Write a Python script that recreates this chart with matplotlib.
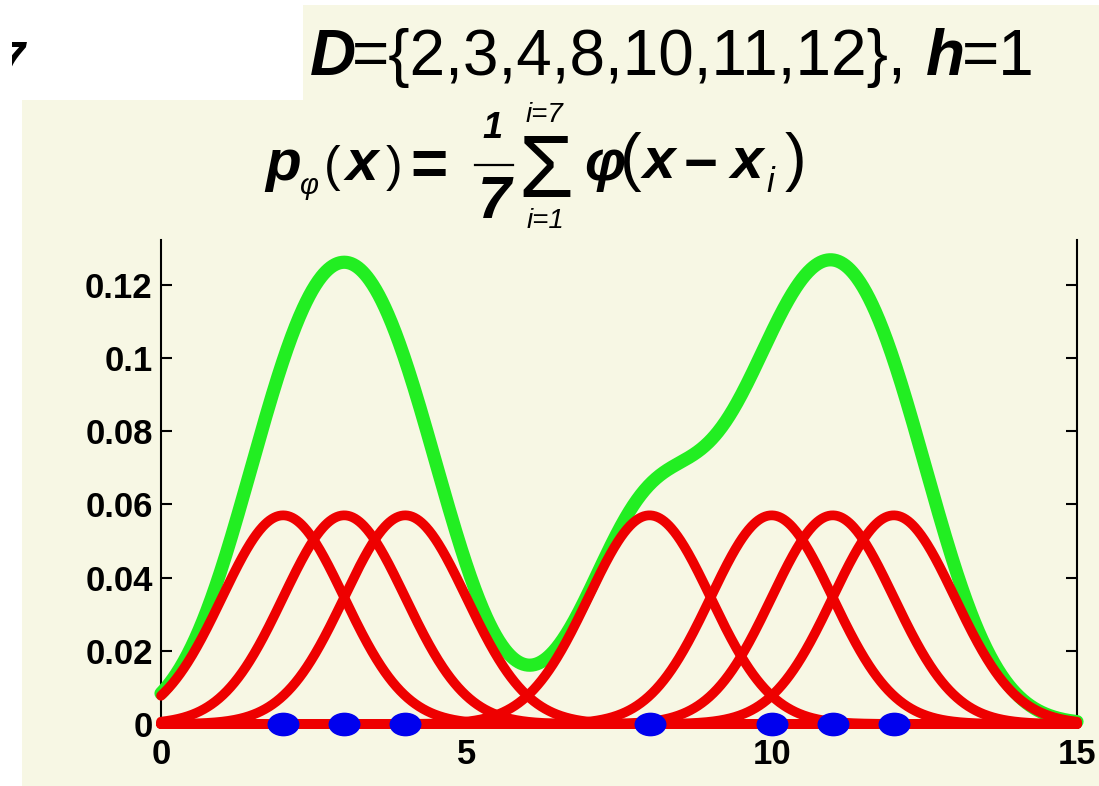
import numpy as np
import matplotlib
matplotlib.use("Agg")
import matplotlib.pyplot as plt
from matplotlib.patches import Rectangle
from matplotlib.lines import Line2D
from matplotlib.path import Path
from matplotlib.transforms import Affine2D, Bbox

# Sample set and kernel width
D = [2, 3, 4, 8, 10, 11, 12]
h = 1.0
x_range = (0, 15)
y_range = (0, 0.1322)
x_ticks = [0, 5, 10, 15]
x_tick_labels = ["0", "5", "10", "15"]
y_ticks = [0, 0.02, 0.04, 0.06, 0.08, 0.10, 0.12]
y_tick_labels = ["0", "0.02", "0.04", "0.06", "0.08", "0.1", "0.12"]

BEIGE = "#f7f7e4"
RED = "#ee0000"
GREEN = "#22ee22"
BLUE = "#0000ee"

W, H = 1099, 786
plt.rcParams["font.family"] = ["Liberation Sans", "DejaVu Sans"]

fig = plt.figure(figsize=(W / 100, H / 100), dpi=100, facecolor="white")


def fx(x):
    return x / W


def fy(y):
    return 1 - y / H


# Background panels (pixel coordinates from the top-left corner)
for (x0, y0, x1, y1) in [(303, 5, W, 100), (22, 100, W, H)]:
    fig.patches.append(Rectangle((fx(x0), fy(y1)), fx(x1) - fx(x0), fy(y0) - fy(y1),
                                 transform=fig.transFigure, facecolor=BEIGE,
                                 edgecolor="none", zorder=-5))


def put(x, y, s, size, weight="normal", style="normal", **kw):
    return fig.text(fx(x), fy(y), s, fontsize=size, fontweight=weight, fontstyle=style,
                    ha=kw.pop("ha", "left"), va="baseline", color="black", **kw)


# Partly hidden digit in the upper-left corner
seven = put(25, 75, "7", 35, "bold", "italic", ha="right")
seven.set_clip_box(Bbox.from_extents(12, 0, 60, H))
seven.set_clip_on(True)

# Heading: data set and bandwidth
put(310, 75, "D", 46, "bold", "italic")
put(352, 75, "={2,3,4,8,10,11,12},", 46)
put(926, 75, "h", 46, "bold", "italic")
put(962, 75, "=1", 46)

# Estimator formula
put(265, 180, "p", 42, "bold", "italic")
put(300, 194, "φ", 21, "normal", "italic")
put(324, 181, "(", 36)
put(346, 180, "x", 42, "bold", "italic")
put(386, 181, ")", 36)
put(410, 185, "=", 46, "bold")
put(482, 138, "1", 26, "bold", "italic")
fig.lines.append(Line2D([fx(475), fx(513)], [fy(165), fy(165)], transform=fig.transFigure,
                        color="black", lw=1.6))
put(478, 218, "7", 43, "bold", "italic")
put(518, 197, "Σ", 64)
put(526, 122, "i=7", 20, "normal", "italic")
put(527, 228, "i=1", 20, "normal", "italic")
put(584, 180, "φ", 42, "bold", "italic")
put(620, 179, "(", 47)
put(643, 178, "x", 42, "bold", "italic")
put(684, 182, "−", 42, "bold")
put(731, 178, "x", 42, "bold", "italic")
put(766, 192, "i", 25, "normal", "italic")
put(785, 179, ")", 47)

# Axes
ax = fig.add_axes([fx(161), fy(724), fx(1077) - fx(161), fy(240) - fy(724)])
ax.set_facecolor("none")
ax.set_xlim(*x_range)
ax.set_ylim(*y_range)

xs = np.linspace(x_range[0], x_range[1], 1200)
n = len(D)


def kernel(u):
    return np.exp(-0.5 * (u / h) ** 2) / (np.sqrt(2 * np.pi) * h)


components = [kernel(xs - xi) / n for xi in D]
total = np.sum(components, axis=0)

ax.plot(xs, total, color=GREEN, lw=9.5, solid_capstyle="round", zorder=3, clip_on=False)
for comp in components:
    ax.plot(xs, comp, color=RED, lw=7, solid_capstyle="round", zorder=4, clip_on=False)

ellipse = Path.unit_circle().transformed(Affine2D().scale(1.0, 0.73))
ax.plot(D, np.zeros(n), linestyle="none", marker=ellipse, markersize=22,
        color=BLUE, markeredgecolor=BLUE, zorder=5, clip_on=False)

ax.set_xticks(x_ticks)
ax.set_xticklabels(x_tick_labels)
ax.set_yticks(y_ticks)
ax.set_yticklabels(y_tick_labels)
for lab in ax.get_xticklabels() + ax.get_yticklabels():
    lab.set_fontweight("bold")
    lab.set_fontsize(25)

ax.spines["top"].set_visible(False)
for s in ["left", "right", "bottom"]:
    ax.spines[s].set_linewidth(1.5)
    ax.spines[s].set_color("black")
ax.tick_params(axis="y", direction="in", length=8, width=1.5, left=True, right=True,
               labelright=False, pad=6)
ax.tick_params(axis="x", direction="in", length=0, pad=10)

fig.savefig("out.png", dpi=100, facecolor="white")
